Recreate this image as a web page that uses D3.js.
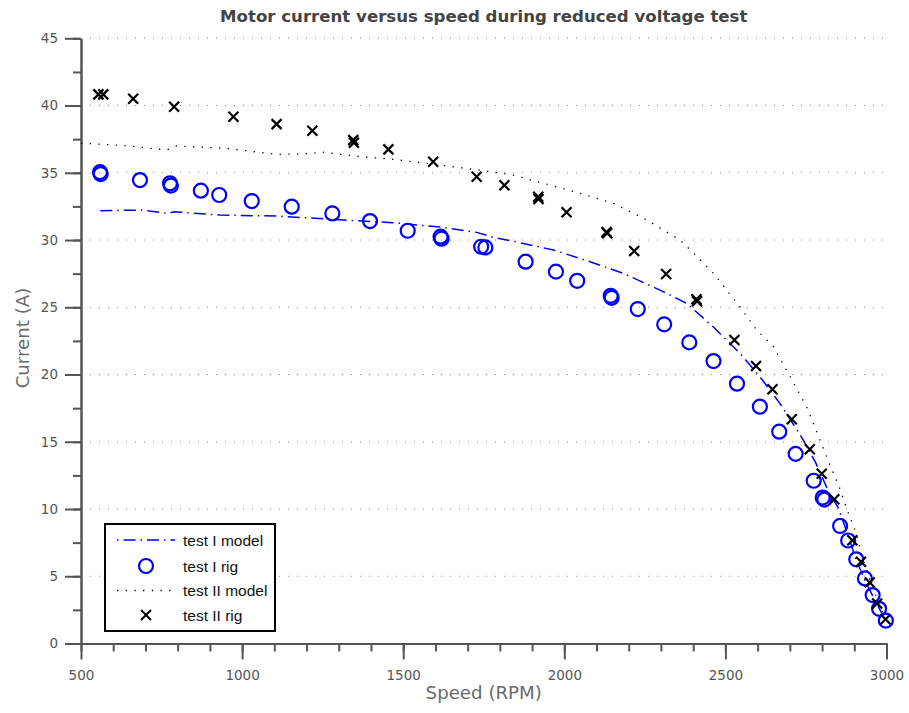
<!DOCTYPE html>
<html>
<head>
<meta charset="utf-8">
<script src="https://cdn.jsdelivr.net/npm/d3@7"></script>
<style>
    body { margin: 0; background: #fff; }
</style>
</head>
<body>
<script>

// test I, rig measurements
var test1RigSpeed = [559, 561, 683, 776, 779, 872, 929, 1030, 1154, 1280, 1397, 1514, 1616, 1619, 1742, 1755, 1880, 1974, 2040, 2144, 2147, 2228, 2310, 2388, 2463, 2536, 2607, 2667, 2718, 2774, 2802, 2807, 2856, 2881, 2906, 2933, 2957, 2977, 2998];
var test1RigCurrent = [35.05, 34.9, 34.46, 34.22, 34.05, 33.67, 33.35, 32.9, 32.48, 31.98, 31.41, 30.69, 30.25, 30.1, 29.5, 29.45, 28.39, 27.65, 26.97, 25.85, 25.7, 24.87, 23.73, 22.39, 21.0, 19.32, 17.61, 15.75, 14.1, 12.1, 10.85, 10.7, 8.74, 7.66, 6.26, 4.84, 3.6, 2.58, 1.7];

// test II, rig measurements
var test2RigSpeed = [554, 569, 662, 789, 973, 1107, 1218, 1345, 1347, 1454, 1593, 1728, 1814, 1919, 1920, 2007, 2131, 2133, 2217, 2316, 2410, 2412, 2528, 2595, 2646, 2706, 2762, 2799, 2838, 2894, 2921, 2948, 2971, 2997];
var test2RigCurrent = [40.83, 40.83, 40.5, 39.91, 39.17, 38.62, 38.13, 37.43, 37.23, 36.74, 35.82, 34.7, 34.07, 33.22, 33.05, 32.06, 30.6, 30.5, 29.18, 27.47, 25.6, 25.45, 22.57, 20.63, 18.9, 16.67, 14.45, 12.62, 10.72, 7.67, 6.08, 4.53, 2.97, 1.8];

// test I, model
var test1ModelSpeed = [560, 686, 770, 790, 931, 1107, 1314, 1468, 1620, 1728, 1780, 1873, 1966, 2080, 2183, 2297, 2380, 2462, 2545, 2607, 2669, 2742, 2780, 2822, 2850, 2880, 2906, 2935, 2960, 2980, 2998];
var test1ModelCurrent = [32.18, 32.23, 31.98, 32.1, 31.86, 31.78, 31.49, 31.29, 30.95, 30.57, 30.2, 29.75, 29.26, 28.39, 27.52, 26.28, 25.29, 23.55, 21.58, 19.84, 17.86, 15.13, 13.45, 11.2, 10.1, 8.1, 6.2, 4.6, 3.4, 2.5, 1.7];

// test II, model
var test2ModelSpeed = [500, 642, 766, 797, 952, 1107, 1220, 1242, 1366, 1469, 1573, 1738, 1842, 1935, 2049, 2152, 2256, 2359, 2411, 2463, 2545, 2597, 2649, 2701, 2752, 2794, 2822, 2853, 2880, 2902, 2928, 2955, 2978, 2998];
var test2ModelCurrent = [37.21, 37.01, 36.69, 36.99, 36.82, 36.37, 36.44, 36.56, 36.2, 36.0, 35.7, 35.2, 34.83, 34.22, 33.47, 32.73, 31.49, 30.0, 28.8, 27.52, 25.04, 23.31, 22.07, 19.84, 17.6, 15.13, 13.4, 11.66, 9.8, 8.44, 6.2, 4.3, 2.9, 1.8];

var xTicks = [500, 1000, 1500, 2000, 2500, 3000];
var yTicks = [0, 5, 10, 15, 20, 25, 30, 35, 40, 45];

var legendLabels = ["test I model", "test I rig", "test II model", "test II rig"];

var width = 909;
var height = 713;

var margin = { top: 38.3, right: 22.5, bottom: 69.5, left: 81 };
var chartWidth = width - margin.left - margin.right;
var chartHeight = height - margin.top - margin.bottom;

var axisColor = "#555";
var blue = "#0000ff";

function zipPoints(xs, ys) {
    return xs.map(function(x, i) { return { x: x, y: ys[i] }; });
}

var svg = d3.select("body").append("svg")
    .attr("width", width)
    .attr("height", height)
    .style("font-family", "'DejaVu Sans', sans-serif");

var g = svg.append("g")
    .attr("transform", "translate(" + margin.left + "," + margin.top + ")");

var xScale = d3.scaleLinear().domain([500, 3000]).range([0, chartWidth]);
var yScale = d3.scaleLinear().domain([0, 45]).range([chartHeight, 0]);

// dotted horizontal grid
g.selectAll(".grid")
    .data(yTicks.filter(function(d) { return d > 0; }))
    .enter().append("line")
    .attr("x1", 9)
    .attr("x2", chartWidth)
    .attr("y1", function(d) { return yScale(d); })
    .attr("y2", function(d) { return yScale(d); })
    .attr("stroke", "#888")
    .attr("stroke-width", 1)
    .attr("stroke-dasharray", "1,8");

// minor ticks
var xMinor = d3.range(500, 3001, 100);
var yMinor = d3.range(0, 45.1, 2.5);

var xAxis = g.append("g")
    .attr("transform", "translate(0," + chartHeight + ")");
xAxis.call(d3.axisBottom(xScale).tickValues(xMinor).tickSize(8).tickSizeOuter(0).tickFormat(""));
xAxis.append("g")
    .call(d3.axisBottom(xScale).tickValues(xTicks).tickSize(16).tickSizeOuter(0).tickPadding(11).tickFormat(d3.format("d")));

var yAxis = g.append("g");
yAxis.call(d3.axisLeft(yScale).tickValues(yMinor).tickSize(8).tickSizeOuter(0).tickFormat(""));
yAxis.append("g").call(d3.axisLeft(yScale).tickValues(yTicks).tickSize(16).tickSizeOuter(0).tickPadding(7));

svg.selectAll(".domain, .tick line")
    .attr("stroke", axisColor)
    .attr("stroke-width", 2);
svg.selectAll(".tick text")
    .attr("fill", axisColor)
    .style("font-family", "'DejaVu Sans', sans-serif")
    .style("font-size", "13.5px");

// the model curves
var line = d3.line()
    .x(function(d) { return xScale(d.x); })
    .y(function(d) { return yScale(d.y); });

g.append("path")
    .datum(zipPoints(test2ModelSpeed, test2ModelCurrent))
    .attr("fill", "none")
    .attr("stroke", "#000")
    .attr("stroke-width", 1.3)
    .attr("stroke-dasharray", "1.3,7.4")
    .attr("d", line);

g.append("path")
    .datum(zipPoints(test1ModelSpeed, test1ModelCurrent))
    .attr("fill", "none")
    .attr("stroke", blue)
    .attr("stroke-width", 1.5)
    .attr("stroke-dasharray", "12,5,1.5,5")
    .attr("d", line);

// rig points
g.selectAll(".circ")
    .data(zipPoints(test1RigSpeed, test1RigCurrent))
    .enter().append("circle")
    .attr("cx", function(d) { return xScale(d.x); })
    .attr("cy", function(d) { return yScale(d.y); })
    .attr("r", 7)
    .attr("fill", "none")
    .attr("stroke", blue)
    .attr("stroke-width", 2.2);

function crossPath(s) {
    return "M" + (-s) + "," + (-s) + "L" + s + "," + s + "M" + (-s) + "," + s + "L" + s + "," + (-s);
}

g.selectAll(".cross")
    .data(zipPoints(test2RigSpeed, test2RigCurrent))
    .enter().append("path")
    .attr("transform", function(d) { return "translate(" + xScale(d.x) + "," + yScale(d.y) + ")"; })
    .attr("d", crossPath(5))
    .attr("fill", "none")
    .attr("stroke", "#000")
    .attr("stroke-width", 2.2);

// title and axis labels
svg.append("text")
    .attr("x", margin.left + chartWidth / 2)
    .attr("y", 22)
    .attr("text-anchor", "middle")
    .attr("fill", "#444")
    .style("font-family", "'DejaVu Sans', sans-serif")
    .style("font-weight", "bold")
    .style("font-size", "16.6px")
    .text("Motor current versus speed during reduced voltage test");

svg.append("text")
    .attr("x", margin.left + chartWidth / 2)
    .attr("y", 699)
    .attr("text-anchor", "middle")
    .attr("fill", "#6a6a6a")
    .style("font-family", "'DejaVu Sans', sans-serif")
    .style("font-size", "18.2px")
    .text("Speed (RPM)");

svg.append("text")
    .attr("transform", "translate(29," + 338 + ") rotate(-90)")
    .attr("text-anchor", "middle")
    .attr("fill", "#6a6a6a")
    .style("font-family", "'DejaVu Sans', sans-serif")
    .style("font-size", "18.2px")
    .text("Current (A)");

// legend
var legend = svg.append("g").attr("transform", "translate(105,524)");
legend.append("rect")
    .attr("width", 170)
    .attr("height", 107)
    .attr("fill", "#fff")
    .attr("stroke", "#000")
    .attr("stroke-width", 2);

var rowY = [16, 42, 66.5, 91];

legend.append("line")
    .attr("x1", 12).attr("x2", 70)
    .attr("y1", rowY[0]).attr("y2", rowY[0])
    .attr("stroke", blue).attr("stroke-width", 1.5)
    .attr("stroke-dasharray", "1.5,5,12,5");
legend.append("circle")
    .attr("cx", 41).attr("cy", rowY[1]).attr("r", 7)
    .attr("fill", "none").attr("stroke", blue).attr("stroke-width", 2.2);
legend.append("line")
    .attr("x1", 12).attr("x2", 70)
    .attr("y1", rowY[2]).attr("y2", rowY[2])
    .attr("stroke", "#000").attr("stroke-width", 1.3)
    .attr("stroke-dasharray", "1.3,7.4");
legend.append("path")
    .attr("transform", "translate(41," + rowY[3] + ")")
    .attr("d", crossPath(5))
    .attr("fill", "none").attr("stroke", "#000").attr("stroke-width", 2);

legend.selectAll(".label")
    .data(legendLabels)
    .enter().append("text")
    .attr("x", 78)
    .attr("y", function(d, i) { return rowY[i]; })
    .attr("dy", "0.36em")
    .attr("fill", "#111")
    .style("font-family", "'Liberation Sans', Arial, sans-serif")
    .style("font-size", "15.5px")
    .text(function(d) { return d; });

</script>
</body>
</html>
